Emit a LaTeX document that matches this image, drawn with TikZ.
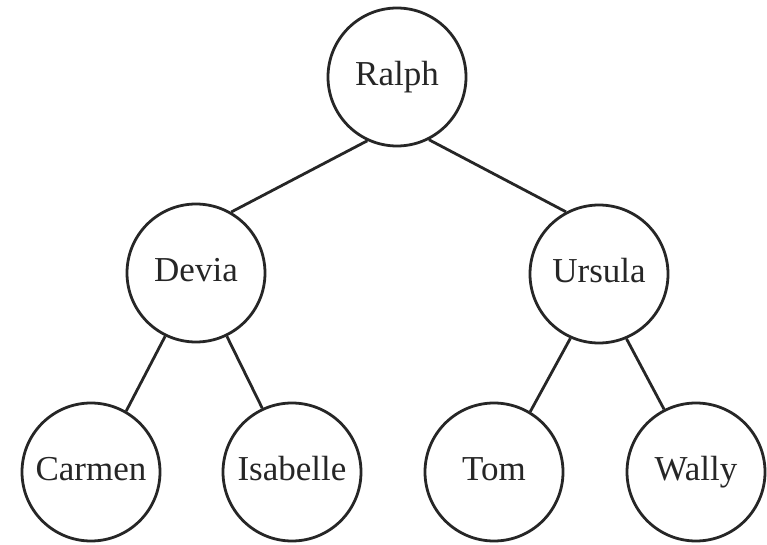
\documentclass[tikz,border=0pt]{standalone}
\usepackage{fontspec}
\setmainfont{Liberation Serif}
\begin{document}
\begin{tikzpicture}[x=1pt,y=-1pt,
  person/.style={draw=black!85,circle,line width=2.8pt,minimum size=138pt,inner sep=0pt,
    text height=24pt,text depth=7pt,font=\fontsize{35}{38}\selectfont,text=black!85},
  link/.style={draw=black!85,line width=2.8pt}]
\useasboundingbox (0,0) rectangle (767,545);
\node[person] (ralph)    at (397,77)  {Ralph};
\node[person] (devia)    at (196,273) {Devia};
\node[person] (ursula)   at (599,274) {Ursula};
\node[person] (carmen)   at (91,472)  {Carmen};
\node[person] (isabelle) at (292,472) {Isabelle};
\node[person] (tom)      at (494,472) {Tom};
\node[person] (wally)    at (696,472) {Wally};
% parent edges leave the lower rim, child edges enter the upper rim
\draw[link] (ralph.245)  -- (devia.60);
\draw[link] (ralph.297)  -- (ursula.118);
\draw[link] (devia.244)  -- (carmen.60);
\draw[link] (devia.296)  -- (isabelle.115);
\draw[link] (ursula.246) -- (tom.59);
\draw[link] (ursula.293) -- (wally.117);
\end{tikzpicture}
\end{document}
